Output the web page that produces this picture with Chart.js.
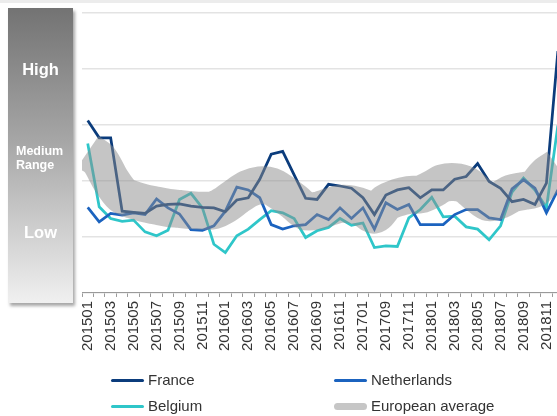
<!DOCTYPE html>
<html>
<head>
<meta charset="utf-8">
<script src="https://cdn.jsdelivr.net/npm/chart.js@4.4.1/dist/chart.umd.min.js"></script>
<style>
  html, body { margin: 0; padding: 0; background: #fff; overflow: hidden; width: 557px; height: 416px; }
  body { position: relative; font-family: "Liberation Sans", Arial, sans-serif; }
  #topbar { position: absolute; left: 0; top: 0; width: 557px; height: 3px; background: #ececec; }
  #panel {
    position: absolute; left: 8px; top: 8px; width: 65px; height: 295px;
    background: linear-gradient(to bottom, #737373 0%, #a6a6a6 45%, #f0f0f0 100%);
    box-shadow: 2px 3px 3px rgba(0, 0, 0, 0.35);
    color: #fff; font-weight: bold;
  }
  #panel div { position: absolute; white-space: nowrap; }
  .high { left: 0; width: 65px; text-align: center; top: 52px; font-size: 16.5px; }
  .medium { left: 8px; top: 136px; font-size: 12.5px; line-height: 14px; }
  .low { left: 0; width: 65px; text-align: center; top: 215px; font-size: 16.5px; }
  #wrap { position: absolute; left: 0; top: 0; width: 580px; height: 370px; }
  #legend { position: absolute; left: 0; top: 0; width: 557px; height: 416px; pointer-events: none; }
  .item { position: absolute; font-size: 15px; color: #333; line-height: 18px; white-space: nowrap; }
  .item span.sw { position: absolute; left: 0; border-radius: 4px; }
  .item span.tx { position: absolute; left: 37px; top: 0; }
</style>
</head>
<body>
<div id="topbar"></div>
<div id="wrap"><canvas id="chart"></canvas></div>
<div id="panel">
  <div class="high">High</div>
  <div class="medium">Medium<br>Range</div>
  <div class="low">Low</div>
</div>
<div id="legend"></div>
<script>
  const categories = [
    "201501", "201502", "201503", "201504", "201505", "201506", "201507", "201508",
    "201509", "201510", "201511", "201512", "201601", "201602", "201603", "201604",
    "201605", "201606", "201607", "201608", "201609", "201610", "201611", "201612",
    "201701", "201708", "201709", "201710", "201711", "201712", "201801", "201802",
    "201803", "201804", "201805", "201806", "201807", "201808", "201809", "201810",
    "201811", "201812"
  ];

  const france = [
    3.08, 2.77, 2.77, 1.46, 1.44, 1.42, 1.55, 1.58, 1.59, 1.55, 1.53, 1.52,
    1.45, 1.66, 1.70, 2.03, 2.48, 2.53, 2.11, 1.69, 1.67, 1.94, 1.91, 1.87,
    1.70, 1.40, 1.75, 1.84, 1.88, 1.70, 1.84, 1.84, 2.03, 2.08, 2.31, 1.99,
    1.87, 1.63, 1.67, 1.58, 1.96, 4.32
  ];
  const netherlands = [
    1.53, 1.27, 1.42, 1.39, 1.43, 1.40, 1.68, 1.52, 1.41, 1.13, 1.12, 1.20,
    1.46, 1.89, 1.84, 1.70, 1.22, 1.14, 1.20, 1.22, 1.40, 1.31, 1.52, 1.33,
    1.52, 1.14, 1.61, 1.49, 1.58, 1.22, 1.22, 1.22, 1.40, 1.49, 1.49, 1.34,
    1.31, 1.86, 2.02, 1.87, 1.43, 1.84
  ];
  const belgium = [
    2.67, 1.54, 1.33, 1.28, 1.30, 1.09, 1.02, 1.12, 1.67, 1.78, 1.52, 0.87,
    0.72, 1.02, 1.14, 1.31, 1.47, 1.43, 1.33, 0.99, 1.11, 1.17, 1.33, 1.21,
    1.25, 0.81, 0.84, 0.83, 1.34, 1.49, 1.71, 1.36, 1.37, 1.18, 1.14, 0.95,
    1.20, 1.80, 2.05, 1.84, 1.52, 2.99
  ];
  const europeanAverage = [
    2.52, 2.38, 2.02, 1.75, 1.66, 1.60, 1.56, 1.52, 1.50, 1.48, 1.47, 1.48,
    1.58, 1.73, 1.86, 1.92, 1.90, 1.78, 1.63, 1.46, 1.47, 1.53, 1.59, 1.58,
    1.52, 1.40, 1.61, 1.70, 1.75, 1.76, 1.85, 1.96, 1.98, 1.93, 1.76, 1.62,
    1.67, 1.78, 1.82, 1.87, 2.10, 2.24
  ];

  const yTicks = [0, 1, 2, 3, 4, 5];

  const ctx = document.getElementById("chart").getContext("2d");

  const chart = new Chart(ctx, {
    type: "line",
    data: {
      labels: categories,
      datasets: [
        {
          label: "France",
          data: france,
          borderColor: "#0b3c7c",
          borderWidth: 2.75,
          pointRadius: 0,
          tension: 0,
          order: 1,
        },
        {
          label: "Netherlands",
          data: netherlands,
          borderColor: "#1b63bf",
          borderWidth: 2.75,
          pointRadius: 0,
          tension: 0,
          order: 1,
        },
        {
          label: "Belgium",
          data: belgium,
          borderColor: "#2fc6c9",
          borderWidth: 2.75,
          pointRadius: 0,
          tension: 0,
          order: 1,
        },
        {
          label: "European average",
          data: europeanAverage,
          borderColor: "rgba(140, 140, 140, 0.5)",
          borderWidth: 38,
          borderJoinStyle: "round",
          pointRadius: 0,
          tension: 0.3,
          clip: 0,
          order: 0,
        },
      ],
    },
    options: {
      responsive: true,
      maintainAspectRatio: false,
      animation: false,
      events: [],
      layout: {
        padding: { left: 82, top: 13, right: 9, bottom: 15 },
      },
      plugins: {
        legend: { display: false },
        tooltip: { enabled: false },
      },
      scales: {
        x: {
          offset: true,
          grid: {
            offset: true,
            drawOnChartArea: false,
            tickLength: 4,
            color: "#9a9a9a",
          },
          border: { color: "#9a9a9a" },
          ticks: {
            autoSkip: false,
            minRotation: 90,
            maxRotation: 90,
            padding: 4,
            color: "#333",
            font: { family: "'Liberation Sans', Arial, sans-serif", size: 15 },
            callback: function (value, index) {
              return index % 2 === 0 ? this.getLabelForValue(value) : "";
            },
          },
        },
        y: {
          min: yTicks[0],
          max: yTicks[yTicks.length - 1],
          afterBuildTicks: function (axis) {
            axis.ticks = yTicks.map(function (v) { return { value: v }; });
          },
          grid: {
            color: "#e3e3e3",
            lineWidth: 1.5,
            drawTicks: false,
          },
          border: { display: false },
          ticks: { display: false },
        },
      },
    },
  });

  // legend laid out in two columns like the original
  const legendPos = [
    { left: 111, top: 371 },
    { left: 334, top: 371 },
    { left: 111, top: 397 },
    { left: 334, top: 397 },
  ];
  const legend = document.getElementById("legend");
  chart.data.datasets.forEach(function (ds, i) {
    const item = document.createElement("div");
    item.className = "item";
    item.style.left = legendPos[i].left + "px";
    item.style.top = legendPos[i].top + "px";
    const sw = document.createElement("span");
    sw.className = "sw";
    const thick = ds.borderWidth > 5 ? 7 : 3;
    sw.style.width = "33px";
    sw.style.height = thick + "px";
    sw.style.top = (9 - thick / 2) + "px";
    sw.style.background = ds.borderWidth > 5 ? "#c6c6c6" : ds.borderColor;
    const tx = document.createElement("span");
    tx.className = "tx";
    tx.textContent = ds.label;
    item.appendChild(sw);
    item.appendChild(tx);
    legend.appendChild(item);
  });
</script>
</body>
</html>
